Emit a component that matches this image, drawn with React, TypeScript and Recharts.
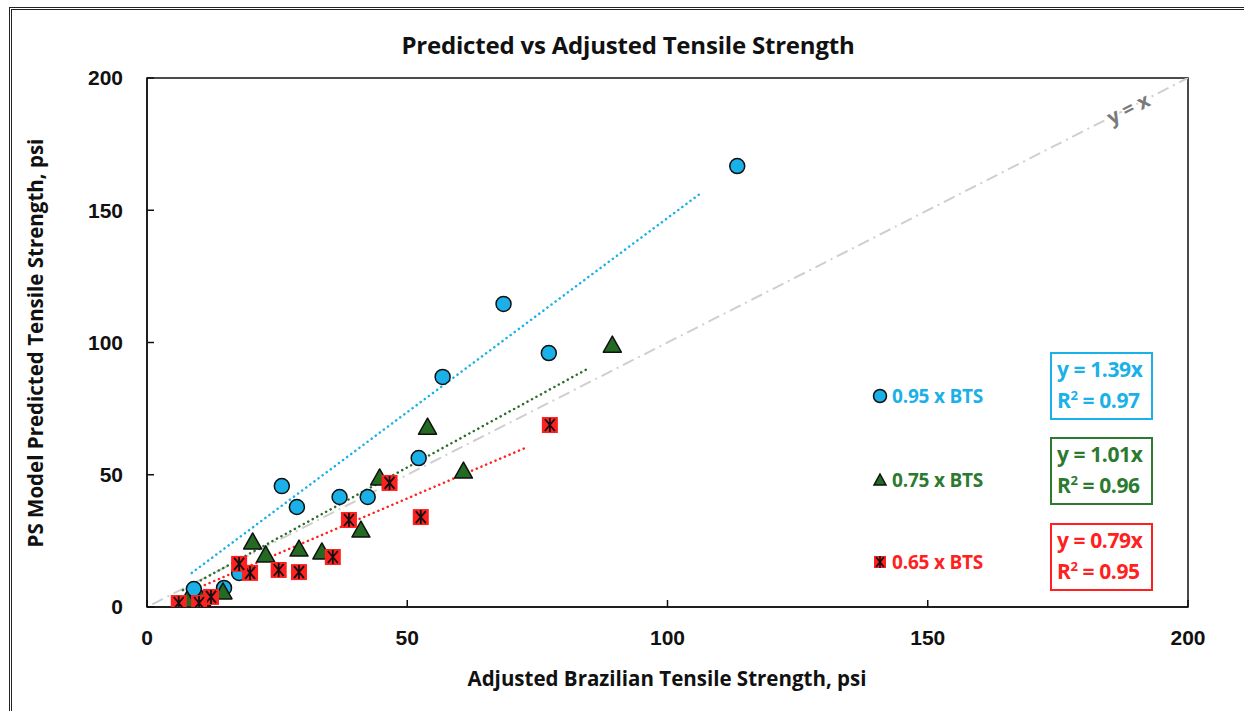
import { ScatterChart, Scatter, XAxis, YAxis, ReferenceArea, ReferenceDot } from 'recharts'

// axis ticks
const xTicks = [0, 50, 100, 150, 200]
const yTicks = [0, 50, 100, 150, 200]

// 0.95 x BTS
const bts95X = [113.4, 68.5, 77.2, 56.8, 52.2, 42.4, 37.0, 25.9, 28.8, 17.7, 9.0, 14.8]
const bts95Y = [166.7, 114.6, 96.0, 87.0, 56.3, 41.6, 41.6, 45.7, 37.8, 12.9, 6.8, 7.2]

// 0.75 x BTS
const bts75X = [89.4, 53.9, 60.8, 44.7, 41.1, 20.3, 22.8, 29.2, 33.6, 14.6, 7.7, 10.5]
const bts75Y = [99.0, 68.0, 51.4, 48.8, 29.1, 24.6, 19.7, 21.9, 20.8, 5.7, 2.6, 3.0]

// 0.65 x BTS
const bts65X = [77.4, 46.6, 52.6, 38.8, 35.7, 29.2, 25.3, 19.8, 17.7, 12.3, 10.0, 6.1]
const bts65Y = [68.8, 46.9, 34.0, 32.9, 18.9, 13.2, 14.0, 12.9, 16.3, 3.8, 1.5, 1.5]

// trendline end points as drawn
const trend95 = [{ x: 8.6, y: 12.9 }, { x: 106.7, y: 156.9 }]
const trend75 = [{ x: 6.9, y: 6.4 }, { x: 84.6, y: 90.0 }]
const trend65 = [{ x: 11.1, y: 8.3 }, { x: 73.1, y: 60.5 }]
const identity = [{ x: 1, y: 1 }, { x: 200, y: 200 }]

const BLUE = '#1ab0e8'
const GREEN = '#236b23'
const GREEN_TEXT = '#2b7a30'
const RED = '#ff2020'

const zip = (xs: number[], ys: number[]) => xs.map((x, i) => ({ x, y: ys[i] }))

const CircleMark = ({ cx, cy }: any) => (
  <circle cx={cx} cy={cy} r={7.5} fill={BLUE} stroke="#111" strokeWidth={1.5} />
)

const TriangleMark = ({ cx, cy }: any) => (
  <path
    d={`M${cx},${cy - 9} L${cx + 9},${cy + 7} L${cx - 9},${cy + 7} Z`}
    fill={GREEN}
    stroke="#111"
    strokeWidth={1.5}
    strokeLinejoin="round"
  />
)

const SquareMark = ({ cx, cy }: any) => (
  <g>
    <rect x={cx - 8} y={cy - 8} width={16} height={16} fill={RED} />
    <path
      d={`M${cx - 5},${cy - 6} L${cx + 5},${cy + 6} M${cx + 5},${cy - 6} L${cx - 5},${cy + 6} M${cx},${cy - 7} L${cx},${cy + 7}`}
      stroke="#111"
      strokeWidth={1.8}
    />
  </g>
)

const NoMark = () => null

const IdentityLabel = ({ cx, cy }: any) => (
  <text
    x={cx}
    y={cy}
    transform={`rotate(-26.9 ${cx} ${cy})`}
    textAnchor="middle"
    dominantBaseline="central"
    fill="#7a7a7a"
    fontSize={20}
    fontWeight={700}
    fontFamily="'Open Sans', sans-serif"
    stroke="#fff"
    strokeWidth={4}
    paintOrder="stroke"
  >
    y = x
  </text>
)

const tickStyle = { fontSize: 21, fontWeight: 700, fill: '#111', fontFamily: "'Liberation Sans', Arial, sans-serif" }

const axisTitle = {
  position: 'absolute' as const,
  whiteSpace: 'nowrap' as const,
  fontFamily: "'Open Sans', sans-serif",
  fontWeight: 700,
  fontSize: 20.5,
  color: '#111',
}

function LegendItem({ top, color, label, children }: any) {
  return (
    <div style={{ position: 'absolute', left: 871, top, display: 'flex', alignItems: 'center', gap: 3 }}>
      <svg width={18} height={18}>{children}</svg>
      <span style={{ color, fontSize: 19, fontWeight: 700, fontFamily: "'Open Sans', sans-serif", letterSpacing: -0.2 }}>
        {label}
      </span>
    </div>
  )
}

function EqBox({ top, color, slope, r2 }: any) {
  return (
    <div
      style={{
        position: 'absolute',
        left: 1050,
        top,
        width: 103,
        height: 68,
        border: `2px solid ${color}`,
        color,
        fontFamily: "'Open Sans', sans-serif",
        fontWeight: 700,
        fontSize: 21,
        lineHeight: '31px',
        paddingLeft: 5,
        boxSizing: 'border-box',
        letterSpacing: -0.4,
        whiteSpace: 'nowrap',
      }}
    >
      <div>y = {slope}x</div>
      <div>
        R<sup style={{ fontSize: 13, lineHeight: 0 }}>2</sup> = {r2}
      </div>
    </div>
  )
}

export default function App() {
  return (
    <div style={{ position: 'absolute', left: 0, top: 0, width: 1244, height: 711, overflow: 'hidden', background: '#fff' }}>
      <div
        style={{
          position: 'absolute',
          left: 9,
          top: 7,
          width: 1300,
          height: 800,
          borderLeft: '3px double #222',
          borderTop: '3px double #222',
        }}
      />
      <div
        style={{
          ...axisTitle,
          left: 628,
          top: 44,
          transform: 'translate(-50%, -50%)',
          fontSize: 24,
          letterSpacing: -0.2,
        }}
      >
        Predicted vs Adjusted Tensile Strength
      </div>
      <div style={{ ...axisTitle, left: 667, top: 678, transform: 'translate(-50%, -50%)' }}>
        Adjusted Brazilian Tensile Strength, psi
      </div>
      <div style={{ ...axisTitle, left: 35, top: 343, transform: 'translate(-50%, -50%) rotate(-90deg)' }}>
        PS Model Predicted Tensile Strength, psi
      </div>

      <div style={{ position: 'absolute', left: 0, top: 0 }}>
        <ScatterChart width={1244} height={711} margin={{ top: 78, right: 56, bottom: 74, left: 87 }}>
          <XAxis
            type="number"
            dataKey="x"
            domain={[0, 200]}
            ticks={xTicks}
            height={30}
            tick={tickStyle}
            tickSize={-7}
            tickMargin={30}
            axisLine={{ stroke: '#111', strokeWidth: 1.5 }}
            tickLine={{ stroke: '#111', strokeWidth: 1.5 }}
            allowDataOverflow
          />
          <YAxis
            type="number"
            dataKey="y"
            domain={[0, 200]}
            ticks={yTicks}
            width={60}
            tick={tickStyle}
            tickSize={-7}
            tickMargin={31}
            axisLine={{ stroke: '#111', strokeWidth: 1.5 }}
            tickLine={{ stroke: '#111', strokeWidth: 1.5 }}
            allowDataOverflow
          />
          <ReferenceArea x1={0} x2={200} y1={0} y2={200} fill="none" stroke="#111" strokeWidth={1.5} />
          <Scatter
            data={identity}
            shape={NoMark}
            line={{ stroke: '#cfcfcf', strokeWidth: 2, strokeDasharray: '12 5 2 5' }}
            isAnimationActive={false}
          />
          <Scatter
            data={trend95}
            shape={NoMark}
            line={{ stroke: BLUE, strokeWidth: 2.5, strokeDasharray: '0.1 5', strokeLinecap: 'round' }}
            isAnimationActive={false}
          />
          <Scatter
            data={trend75}
            shape={NoMark}
            line={{ stroke: '#2a6e2a', strokeWidth: 2.5, strokeDasharray: '0.1 5', strokeLinecap: 'round' }}
            isAnimationActive={false}
          />
          <Scatter
            data={trend65}
            shape={NoMark}
            line={{ stroke: RED, strokeWidth: 2.5, strokeDasharray: '0.1 5', strokeLinecap: 'round' }}
            isAnimationActive={false}
          />
          <Scatter data={zip(bts95X, bts95Y)} shape={CircleMark} isAnimationActive={false} />
          <Scatter data={zip(bts75X, bts75Y)} shape={TriangleMark} isAnimationActive={false} />
          <Scatter data={zip(bts65X, bts65Y)} shape={SquareMark} isAnimationActive={false} />
          <ReferenceDot x={188.5} y={188.5} r={0} shape={IdentityLabel} />
        </ScatterChart>
      </div>

      <LegendItem top={383} color={BLUE} label="0.95 x BTS">
        <circle cx={9} cy={9} r={6.5} fill={BLUE} stroke="#111" strokeWidth={1.5} />
      </LegendItem>
      <LegendItem top={467} color={GREEN_TEXT} label="0.75 x BTS">
        <path d="M9,3 L15,14 L3,14 Z" fill={GREEN} stroke="#111" strokeWidth={1.5} />
      </LegendItem>
      <LegendItem top={549} color={RED} label="0.65 x BTS">
        <rect x={3} y={3} width={12} height={12} fill={RED} />
        <path d="M5,4 L13,14 M13,4 L5,14 M9,3 L9,15" stroke="#111" strokeWidth={1.6} />
      </LegendItem>

      <EqBox top={352} color={BLUE} slope="1.39" r2="0.97" />
      <EqBox top={437} color={GREEN_TEXT} slope="1.01" r2="0.96" />
      <EqBox top={523} color={RED} slope="0.79" r2="0.95" />
    </div>
  )
}
